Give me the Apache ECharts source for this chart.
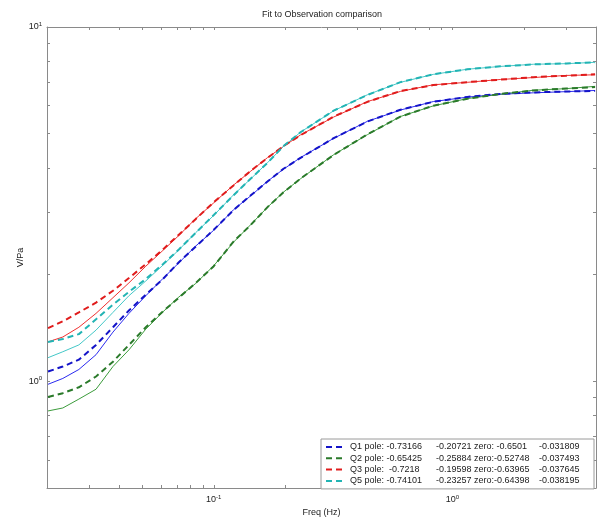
<!DOCTYPE html>
<html>
<head>
<meta charset="utf-8">
<script src="https://cdn.jsdelivr.net/npm/echarts@6/dist/echarts.min.js"></script>
<style>html,body{margin:0;padding:0;background:#fff}#c{width:600px;height:522px}</style>
</head>
<body>
<div id="c"></div>
<script>
// Frequencies (Hz)
const freq = [0.0202, 0.0233, 0.0272, 0.0321, 0.0378, 0.0441, 0.0519, 0.0612, 0.0714, 0.0841, 0.1, 0.121, 0.143, 0.168, 0.196, 0.231, 0.318, 0.441, 0.606, 0.832, 1.156, 1.588, 2.183, 3.0, 3.965];

// Observations (solid) and fits (dashed), V/Pa
const q1Obs = [0.981, 1.019, 1.080, 1.189, 1.377, 1.555, 1.744, 1.95, 2.16, 2.41, 2.67, 3.05, 3.34, 3.67, 3.97, 4.28, 4.85, 5.42, 5.83, 6.16, 6.34, 6.46, 6.52, 6.57, 6.62];
const q1Fit = [1.066, 1.101, 1.151, 1.267, 1.421, 1.585, 1.756, 1.944, 2.168, 2.402, 2.678, 3.043, 3.350, 3.664, 3.981, 4.272, 4.855, 5.412, 5.843, 6.150, 6.350, 6.473, 6.536, 6.578, 6.598];
const q2Obs = [0.825, 0.841, 0.891, 0.950, 1.101, 1.227, 1.404, 1.57, 1.73, 1.89, 2.12, 2.47, 2.77, 3.10, 3.42, 3.73, 4.36, 4.97, 5.59, 5.99, 6.28, 6.46, 6.63, 6.70, 6.80];
const q2Fit = [0.903, 0.926, 0.962, 1.032, 1.136, 1.267, 1.421, 1.575, 1.722, 1.896, 2.113, 2.480, 2.765, 3.102, 3.415, 3.735, 4.355, 4.981, 5.587, 5.995, 6.270, 6.473, 6.620, 6.706, 6.770];
const q3Obs = [1.292, 1.334, 1.421, 1.555, 1.722, 1.896, 2.113, 2.341, 2.58, 2.88, 3.19, 3.58, 3.92, 4.28, 4.60, 4.96, 5.57, 6.16, 6.58, 6.87, 6.98, 7.11, 7.20, 7.30, 7.33];
const q3Fit = [1.413, 1.477, 1.565, 1.668, 1.801, 1.957, 2.141, 2.356, 2.594, 2.873, 3.203, 3.571, 3.930, 4.272, 4.612, 4.950, 5.587, 6.150, 6.598, 6.856, 6.990, 7.103, 7.218, 7.288, 7.356];
const q5Obs = [1.166, 1.212, 1.267, 1.395, 1.565, 1.744, 1.920, 2.127, 2.35, 2.63, 2.94, 3.36, 3.73, 4.14, 4.60, 5.05, 5.80, 6.44, 6.98, 7.35, 7.60, 7.74, 7.85, 7.88, 7.95];
const q5Fit = [1.292, 1.317, 1.359, 1.496, 1.647, 1.789, 1.944, 2.141, 2.356, 2.627, 2.948, 3.350, 3.735, 4.137, 4.612, 5.045, 5.806, 6.432, 6.990, 7.356, 7.597, 7.743, 7.843, 7.893, 7.943];

// Legend text columns
const legendKeys = ['Q1', 'Q2', 'Q3', 'Q5'];
const legendCol1 = ['Q1 pole: -0.73166', 'Q2 pole: -0.65425', 'Q3 pole:  -0.7218', 'Q5 pole: -0.74101'];
const legendCol2 = ['-0.20721', '-0.25884', '-0.19598', '-0.23257'];
const legendCol3 = ['zero: -0.6501', 'zero:-0.52748', 'zero:-0.63965', 'zero:-0.64398'];
const legendCol4 = ['-0.031809', '-0.037493', '-0.037645', '-0.038195'];

// Axis ticks
const xLabelValues = [0.1, 1];
const xTickValues = [0.03, 0.04, 0.05, 0.06, 0.07, 0.08, 0.09, 0.1, 0.2, 0.3, 0.4, 0.5, 0.6, 0.7, 0.8, 0.9, 1, 2, 3, 4];
const yLabelValues = [1, 10];
const yTickValues = [0.6, 0.7, 0.8, 0.9, 1, 2, 3, 4, 5, 6, 7, 8, 9, 10];

const FONT = 'Liberation Sans, Arial, sans-serif';
const axisColor = '#8a8a8a';

function pairs(ys) { return freq.map((f, i) => [f, ys[i]]); }
function pow10Label(v) {
  const e = Math.round(Math.log10(v));
  return '10{s|' + e + '}';
}

const colors = {
  Q1: { obs: '#2a2af0', fit: '#1414c8' },
  Q2: { obs: '#3c9c3c', fit: '#2a7a2a' },
  Q3: { obs: '#f03030', fit: '#e01c1c' },
  Q5: { obs: '#44c8c8', fit: '#22b4b4' }
};
const obsData = { Q1: q1Obs, Q2: q2Obs, Q3: q3Obs, Q5: q5Obs };
const fitData = { Q1: q1Fit, Q2: q2Fit, Q3: q3Fit, Q5: q5Fit };

const series = [];
legendKeys.forEach(k => {
  series.push({
    name: k + ' obs', type: 'line', data: pairs(obsData[k]), showSymbol: false, symbol: 'none',
    lineStyle: { color: colors[k].obs, width: 1 }, itemStyle: { color: colors[k].obs },
    silent: true, z: 2
  });
});
legendKeys.forEach(k => {
  series.push({
    name: k, type: 'line', data: pairs(fitData[k]), showSymbol: false, symbol: 'none',
    lineStyle: { color: colors[k].fit, width: 2, type: [6, 4] }, itemStyle: { color: colors[k].fit },
    silent: true, z: 3
  });
});

const baseX = {
  type: 'log', min: 0.02, max: 4, logBase: 10,
  axisLine: { show: true, lineStyle: { color: axisColor, width: 1 } },
  axisTick: { show: true, inside: true, length: 3, customValues: xTickValues, lineStyle: { color: axisColor } },
  minorTick: { show: false }, splitLine: { show: false }
};
const baseY = {
  type: 'log', min: 0.5, max: 10, logBase: 10,
  axisLine: { show: true, lineStyle: { color: axisColor, width: 1 } },
  axisTick: { show: true, inside: true, length: 3, customValues: yTickValues, lineStyle: { color: axisColor } },
  minorTick: { show: false }, splitLine: { show: false }
};

const option = {
  animation: false,
  backgroundColor: '#ffffff',
  textStyle: { fontFamily: FONT },
  title: {
    text: 'Fit to Observation comparison', left: 257, top: 5,
    textStyle: { fontSize: 9, fontWeight: 'normal', color: '#222', fontFamily: FONT }
  },
  grid: { left: 47, right: 4, top: 27, bottom: 27, containLabel: false },
  xAxis: [
    Object.assign({}, baseX, {
      position: 'bottom',
      name: 'Freq (Hz)', nameLocation: 'middle', nameGap: 20, nameMoveOverlap: false,
      nameTextStyle: { fontSize: 9, color: '#222', fontFamily: FONT },
      axisLabel: {
        show: true, customValues: xLabelValues, margin: 6, formatter: pow10Label,
        color: '#222', fontSize: 9, fontFamily: FONT,
        rich: { s: { fontSize: 6, verticalAlign: 'top', padding: [0, 0, 6, 0], color: '#222' } }
      }
    }),
    Object.assign({}, baseX, { position: 'top', axisLabel: { show: false } })
  ],
  yAxis: [
    Object.assign({}, baseY, {
      position: 'left',
      name: 'V/Pa', nameLocation: 'middle', nameGap: 22, nameRotate: 90, nameMoveOverlap: false,
      nameTextStyle: { fontSize: 9, color: '#222', fontFamily: FONT },
      axisLabel: {
        show: true, customValues: yLabelValues, margin: 5, formatter: pow10Label,
        color: '#222', fontSize: 9, fontFamily: FONT,
        rich: { s: { fontSize: 6, verticalAlign: 'top', padding: [0, 0, 6, 0], color: '#222' } }
      }
    }),
    Object.assign({}, baseY, { position: 'right', axisLabel: { show: false } })
  ],
  legend: {
    data: legendKeys,
    orient: 'vertical', left: 321, top: 439,
    itemWidth: 16, itemHeight: 2, itemGap: 1.3,
    icon: 'path://M0,0h6v2h-6zM10,0h6v2h-6z',
    padding: [3, 3, 3, 5],
    backgroundColor: '#ffffff', borderColor: '#9a9a9a', borderWidth: 1, borderRadius: 0,
    selectedMode: false,
    formatter: function (name) {
      const i = legendKeys.indexOf(name);
      return '{a|' + legendCol1[i] + '}{b|' + legendCol2[i] + '}{c|' + legendCol3[i] + '}{d|' + legendCol4[i] + '}';
    },
    textStyle: {
      fontSize: 9, color: '#222', fontFamily: FONT, lineHeight: 10,
      rich: {
        a: { width: 86, fontSize: 9, lineHeight: 10, padding: [0, 0, 0, 3] },
        b: { width: 38, fontSize: 9, lineHeight: 10 },
        c: { width: 65, fontSize: 9, lineHeight: 10 },
        d: { width: 52, fontSize: 9, lineHeight: 10 }
      }
    }
  },
  series: series
};

const chart = echarts.init(document.getElementById('c'), null, { renderer: 'canvas' });
chart.setOption(option);
</script>
</body>
</html>
